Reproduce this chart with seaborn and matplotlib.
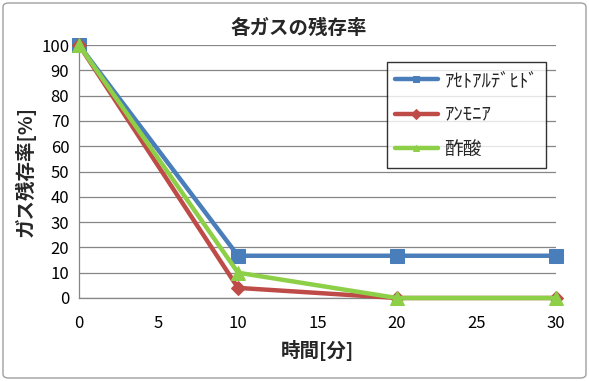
import matplotlib
matplotlib.use("Agg")
import matplotlib.pyplot as plt
import seaborn as sns
import pandas as pd
from matplotlib.patches import FancyBboxPatch

times = [0, 10, 20, 30]
acetaldehyde = [100, 16.7, 16.7, 16.7]
ammonia = [100, 4, 0, 0]
acetic_acid = [100, 10, 0, 0]
series_names = ["ｱｾﾄｱﾙﾃﾞﾋﾄﾞ", "ｱﾝﾓﾆｱ", "酢酸"]
x_ticks = [0, 5, 10, 15, 20, 25, 30]
y_ticks = [0, 10, 20, 30, 40, 50, 60, 70, 80, 90, 100]

df = pd.DataFrame({
    "time": times * 3,
    "value": acetaldehyde + ammonia + acetic_acid,
    "series": [series_names[0]] * 4 + [series_names[1]] * 4 + [series_names[2]] * 4,
})

sns.set_theme(style="white")
plt.rcParams['font.family'] = ['Noto Sans CJK JP', 'DejaVu Sans']

fig = plt.figure(figsize=(5.89, 3.81), dpi=100)
ax = fig.add_axes([79/589, 1-298/381, (556-79)/589, (298-45)/381])

colors = ["#4A7EBB", "#BE4B48", "#8DCF47"]
markers = ["s", "D", "^"]
sizes = [10, 7, 10]
for name, c, m, s in zip(series_names, colors, markers, sizes):
    sub = df[df["series"] == name]
    sns.lineplot(data=sub, x="time", y="value", ax=ax, color=c, marker=m,
                 markersize=s, markeredgecolor=c, linewidth=3.2, label=name,
                 clip_on=False, zorder=3)

ax.set_xlim(0, 30)
ax.set_ylim(0, 100)
ax.set_xticks(x_ticks)
ax.set_yticks(y_ticks)
ax.yaxis.grid(True, color="#868686", linewidth=0.9)
ax.xaxis.grid(False)
for sp in ["top", "right"]:
    ax.spines[sp].set_visible(False)
for sp in ["left", "bottom"]:
    ax.spines[sp].set_color("#868686")
    ax.spines[sp].set_linewidth(0.9)
ax.tick_params(axis="both", which="both", direction="out", length=4, width=0.9,
               color="#868686", labelsize=12, labelcolor="black", pad=3)
ax.tick_params(axis="x", pad=8)
ax.set_xlabel("時間[分]", fontsize=14, fontweight="bold", labelpad=6)
ax.set_ylabel("ガス残存率[%]", fontsize=14, fontweight="bold", labelpad=4)
fig.text(299/589, 1-28/381, "各ガスの残存率", ha="center", va="center",
         fontsize=14, fontweight="bold")

leg = ax.legend(loc="upper left", bbox_to_anchor=((387-79)/477, (298-62)/253),
                frameon=True, fancybox=False, edgecolor="black", fontsize=13.5,
                handlelength=2.3, labelspacing=0.72, borderpad=0.42,
                handletextpad=0.35, borderaxespad=0)
leg.get_frame().set_linewidth(1.0)
for h in leg.legend_handles:
    h.set_markersize(5)

fig.patches.append(FancyBboxPatch((3/589, 3/381), 583/589, 375/381,
                                  boxstyle="round,pad=0,rounding_size=0.01",
                                  transform=fig.transFigure, fill=False,
                                  edgecolor="#A0A0A0", linewidth=1.0))

fig.savefig("out.png", dpi=100)
